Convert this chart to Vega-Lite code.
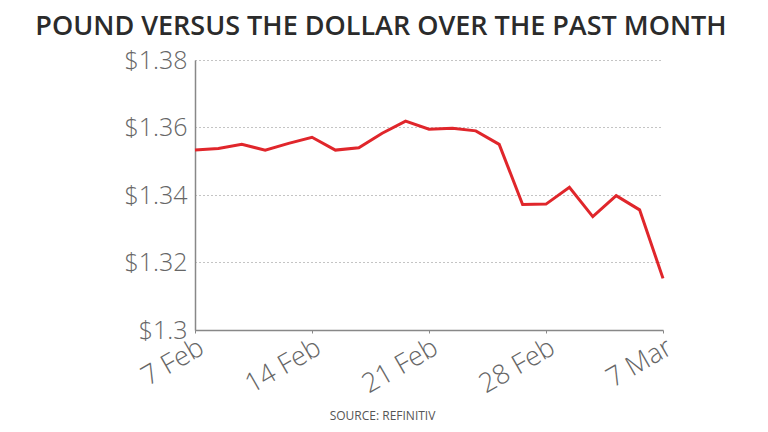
{
  "$schema": "https://vega.github.io/schema/vega-lite/v6.json",
  "width": 468,
  "height": 270,
  "autosize": {"type": "none"},
  "padding": {"left": 195, "top": 60, "right": 105, "bottom": 102},
  "background": "white",
  "title": {
    "text": "POUND VERSUS THE DOLLAR OVER THE PAST MONTH",
    "font": "Open Sans",
    "fontSize": 27,
    "fontWeight": 600,
    "color": "#2b2b2b",
    "anchor": "middle",
    "dx": -48,
    "dy": 5,
    "offset": 12
  },
  "data": {
    "values": [
      {"date": "7 Feb", "rate": 1.3533},
      {"date": "8 Feb", "rate": 1.3538},
      {"date": "9 Feb", "rate": 1.3550},
      {"date": "10 Feb", "rate": 1.3533},
      {"date": "11 Feb", "rate": 1.3553},
      {"date": "14 Feb", "rate": 1.3571},
      {"date": "15 Feb", "rate": 1.3533},
      {"date": "16 Feb", "rate": 1.3540},
      {"date": "17 Feb", "rate": 1.3583},
      {"date": "18 Feb", "rate": 1.3619},
      {"date": "21 Feb", "rate": 1.3595},
      {"date": "22 Feb", "rate": 1.3598},
      {"date": "23 Feb", "rate": 1.3590},
      {"date": "24 Feb", "rate": 1.3550},
      {"date": "25 Feb", "rate": 1.3372},
      {"date": "28 Feb", "rate": 1.3373},
      {"date": "1 Mar", "rate": 1.3423},
      {"date": "2 Mar", "rate": 1.3336},
      {"date": "3 Mar", "rate": 1.3398},
      {"date": "4 Mar", "rate": 1.3356},
      {"date": "7 Mar", "rate": 1.3153}
    ]
  },
  "mark": {"type": "line", "color": "#e0262b", "strokeWidth": 3},
  "encoding": {
    "x": {
      "field": "date",
      "type": "ordinal",
      "sort": null,
      "scale": {"type": "point", "padding": 0},
      "axis": {
        "values": ["7 Feb", "14 Feb", "21 Feb", "28 Feb", "7 Mar"],
        "labelAngle": -30,
        "labelAlign": "right",
        "labelBaseline": "top",
        "labelFont": "Open Sans",
        "labelFontSize": 27,
        "labelFontWeight": 300,
        "labelColor": "#666666",
        "labelPadding": 1,
        "labelDx": -2,
        "domainColor": "#888888",
        "domainWidth": 1.5,
        "tickColor": "#888888",
        "tickSize": 3,
        "grid": false,
        "title": "SOURCE: REFINITIV",
        "titleFont": "Open Sans",
        "titleFontSize": 12,
        "titleFontWeight": "normal",
        "titleColor": "#555555",
        "titleX": 187,
        "titleY": 80,
        "titleAnchor": "middle",
        "titleAlign": "center"
      }
    },
    "y": {
      "field": "rate",
      "type": "quantitative",
      "scale": {"domain": [1.3, 1.38], "nice": false, "zero": false},
      "axis": {
        "values": [1.3, 1.32, 1.34, 1.36, 1.38],
        "format": "$.2~f",
        "labelFont": "Open Sans",
        "labelFontSize": 25,
        "labelFontWeight": 300,
        "labelColor": "#666666",
        "labelPadding": 8,
        "ticks": false,
        "domainColor": "#888888",
        "domainWidth": 1.5,
        "gridColor": "#888888",
        "gridDash": [1, 3],
        "gridWidth": 1,
        "title": null
      }
    }
  },
  "config": {"view": {"stroke": null}}
}
